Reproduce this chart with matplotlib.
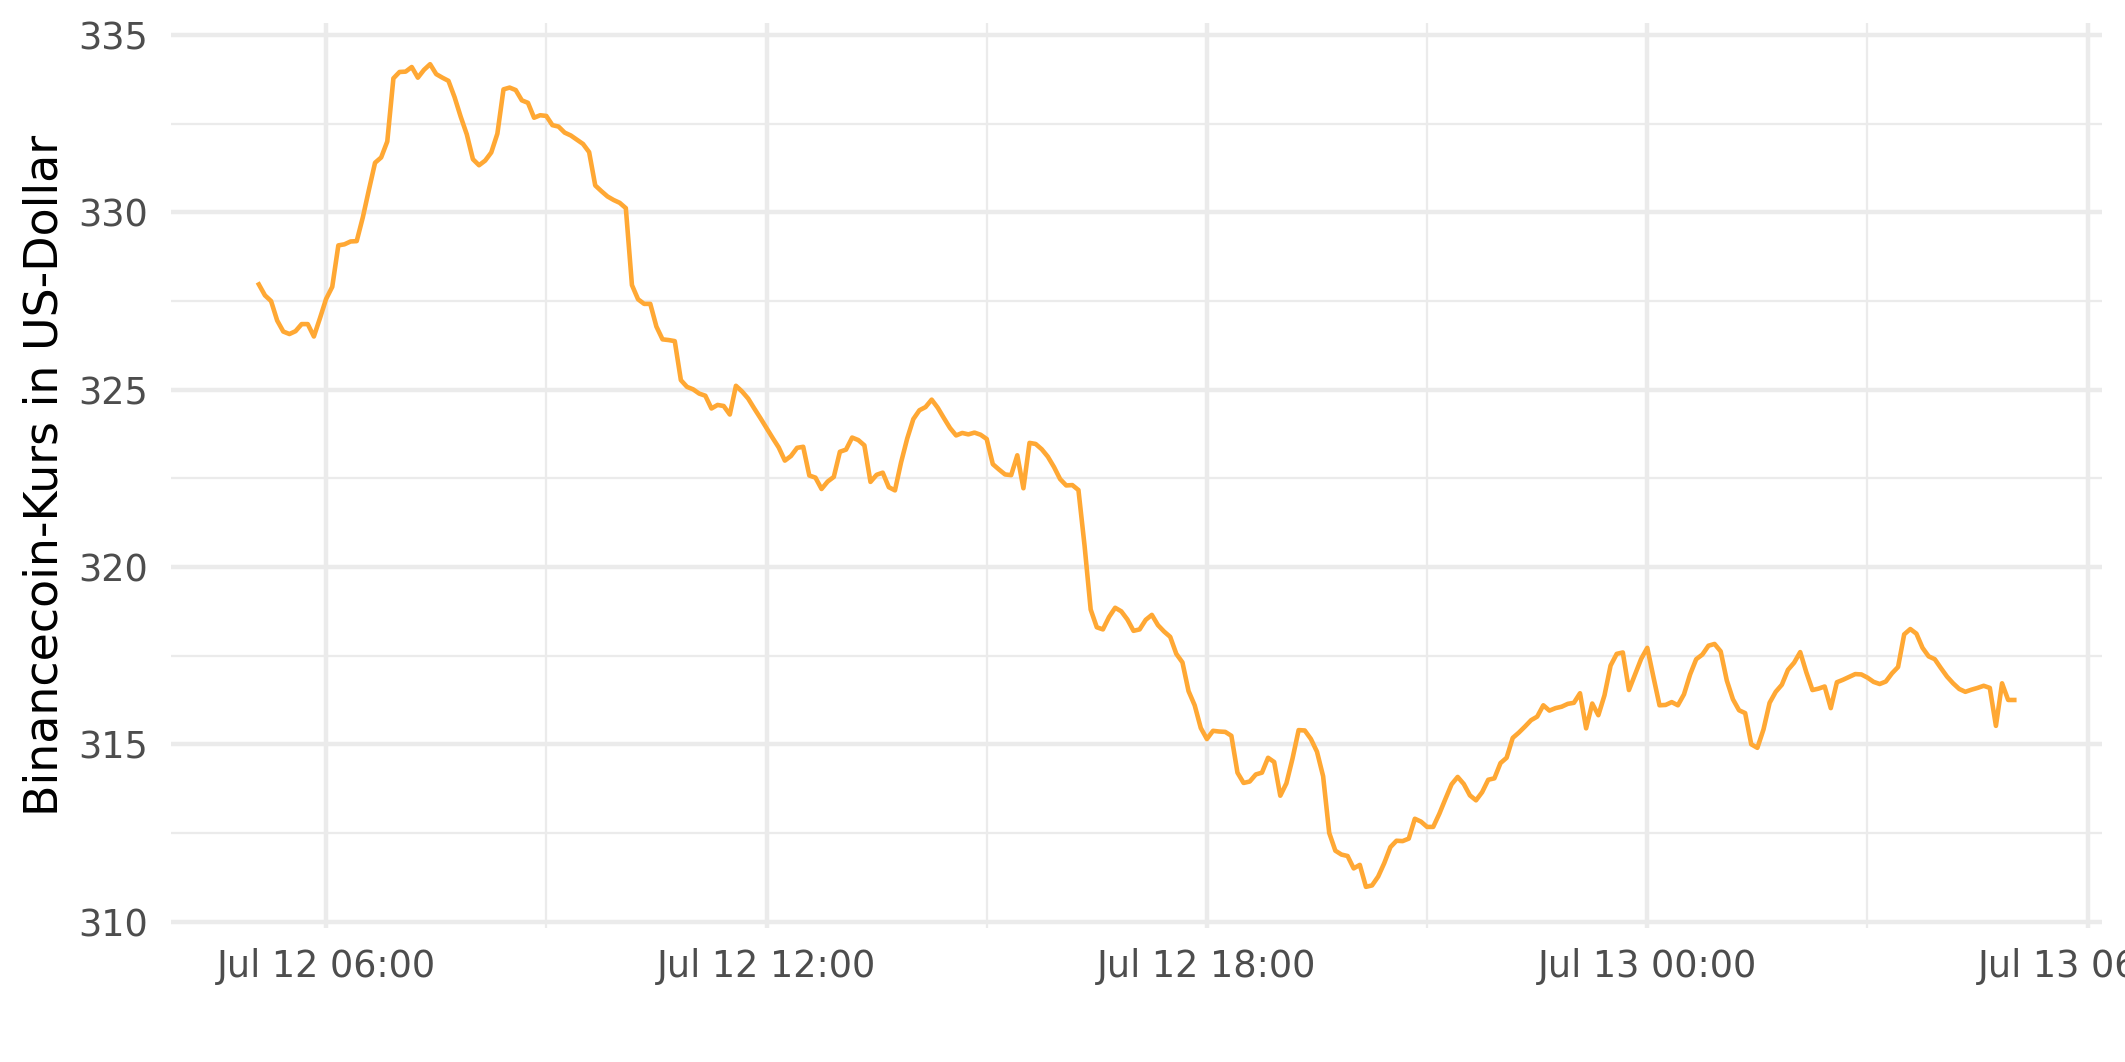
import matplotlib

matplotlib.use("Agg")
import matplotlib.dates as mdates
import matplotlib.pyplot as plt
import numpy as np
import pandas as pd

# BNB-Kurs in 5-Minuten-Schritten, Jul 12 05:05 bis Jul 13 05:00
start_time = "2021-07-12 05:05"
step = "5min"

price_block1 = [
    327.97, 327.66, 327.50, 326.95, 326.64, 326.57, 326.65, 326.85, 326.85, 326.50, 327.02, 327.56,
    327.90, 329.07, 329.10, 329.18, 329.19, 329.86, 330.64, 331.40, 331.55, 332.00, 333.78, 333.96,
    333.97, 334.10, 333.80, 334.02, 334.18, 333.90, 333.80, 333.71, 333.25, 332.70, 332.20, 331.50,
    331.33, 331.46, 331.69, 332.22, 333.47, 333.52, 333.45, 333.16, 333.09, 332.67, 332.74, 332.72,
    332.46, 332.42, 332.25, 332.17, 332.05, 331.93, 331.70, 330.76, 330.60, 330.45, 330.35, 330.27,
    330.12, 327.95, 327.55, 327.42, 327.42, 326.78, 326.42, 326.40, 326.37, 325.27, 325.08, 325.01,
]
price_block2 = [
    324.89, 324.83, 324.47, 324.57, 324.54, 324.30, 325.11, 324.95, 324.75, 324.47, 324.20, 323.92,
    323.64, 323.37, 323.00, 323.13, 323.36, 323.39, 322.58, 322.52, 322.20, 322.41, 322.54, 323.25,
    323.31, 323.65, 323.58, 323.43, 322.40, 322.60, 322.66, 322.25, 322.16, 322.95, 323.62, 324.17,
    324.42, 324.51, 324.72, 324.49, 324.20, 323.92, 323.71, 323.78, 323.74, 323.79, 323.73, 323.61,
    322.90, 322.75, 322.61, 322.59, 323.15, 322.22, 323.50, 323.47, 323.32, 323.11, 322.82, 322.48,
    322.30, 322.31, 322.17, 320.60, 318.80, 318.30, 318.24, 318.59, 318.85, 318.75, 318.52, 318.20,
]
price_block3 = [
    318.24, 318.51, 318.65, 318.36, 318.18, 318.03, 317.55, 317.31, 316.50, 316.10, 315.46, 315.15,
    315.38, 315.36, 315.35, 315.24, 314.20, 313.91, 313.95, 314.15, 314.20, 314.62, 314.50, 313.55,
    313.90, 314.60, 315.40, 315.39, 315.15, 314.79, 314.10, 312.50, 312.00, 311.89, 311.85, 311.50,
    311.60, 310.98, 311.02, 311.27, 311.65, 312.10, 312.28, 312.27, 312.34, 312.90, 312.82, 312.67,
    312.67, 313.04, 313.46, 313.87, 314.08, 313.88, 313.56, 313.42, 313.65, 314.00, 314.04, 314.47,
    314.62, 315.18, 315.33, 315.50, 315.68, 315.78, 316.10, 315.95, 316.02, 316.06, 316.14, 316.17,
]
price_block4 = [
    316.44, 315.45, 316.15, 315.82, 316.38, 317.22, 317.55, 317.59, 316.53, 316.97, 317.41, 317.72,
    316.90, 316.10, 316.11, 316.19, 316.10, 316.41, 316.97, 317.40, 317.53, 317.78, 317.83, 317.62,
    316.80, 316.27, 315.96, 315.88, 315.00, 314.90, 315.42, 316.17, 316.48, 316.68, 317.10, 317.30,
    317.60, 317.03, 316.53, 316.57, 316.63, 316.02, 316.75, 316.82, 316.90, 316.98, 316.97, 316.88,
    316.76, 316.70, 316.77, 317.00, 317.18, 318.10, 318.25, 318.12, 317.72, 317.48, 317.40, 317.15,
    316.91, 316.72, 316.56, 316.48, 316.54, 316.59, 316.65, 316.59, 315.52, 316.72, 316.25, 316.25,
]

y_ticks = [310, 315, 320, 325, 330, 335]

prices = np.array(price_block1 + price_block2 + price_block3 + price_block4)
times = pd.date_range(start_time, periods=len(prices), freq=step)

GRID = "#EBEBEB"
TEXT = "#4D4D4D"

plt.rcParams["font.family"] = ["DejaVu Sans"]

fig = plt.figure(figsize=(2125 / 300, 1062 / 300), dpi=300)
ax = fig.add_axes([0.0805, 0.1262, 0.9087, 0.8521])

ax.plot(times, prices, color="#FFA834", lw=1.1, solid_joinstyle="round", zorder=3)

# ggplot-artige Achsenerweiterung (5 %)
t0, t1 = mdates.date2num(times[0]), mdates.date2num(times[-1])
pad_t = (t1 - t0) * 0.05
ax.set_xlim(t0 - pad_t, t1 + pad_t)
pad_y = (prices.max() - prices.min()) * 0.05
ax.set_ylim(prices.min() - pad_y, prices.max() + pad_y)

ax.xaxis.set_major_locator(mdates.HourLocator(byhour=[0, 6, 12, 18]))
ax.xaxis.set_minor_locator(mdates.HourLocator(byhour=[3, 9, 15, 21]))
ax.xaxis.set_major_formatter(mdates.DateFormatter("%b %d %H:%M"))
ax.set_yticks(y_ticks)
ax.set_yticks([312.5, 317.5, 322.5, 327.5, 332.5], minor=True)

ax.grid(which="major", color=GRID, lw=1.07)
ax.grid(which="minor", color=GRID, lw=0.55)
ax.set_axisbelow(True)
for s in ax.spines.values():
    s.set_visible(False)
ax.tick_params(which="both", length=0)
ax.tick_params(axis="x", labelsize=8.8, labelcolor=TEXT, pad=4.8)
ax.tick_params(axis="y", labelsize=8.8, labelcolor=TEXT, pad=5.5)

ax.set_ylabel("Binancecoin-Kurs in US-Dollar", fontsize=11, color="black", labelpad=2.5)

fig.savefig("out.png", dpi=300, facecolor="white")
